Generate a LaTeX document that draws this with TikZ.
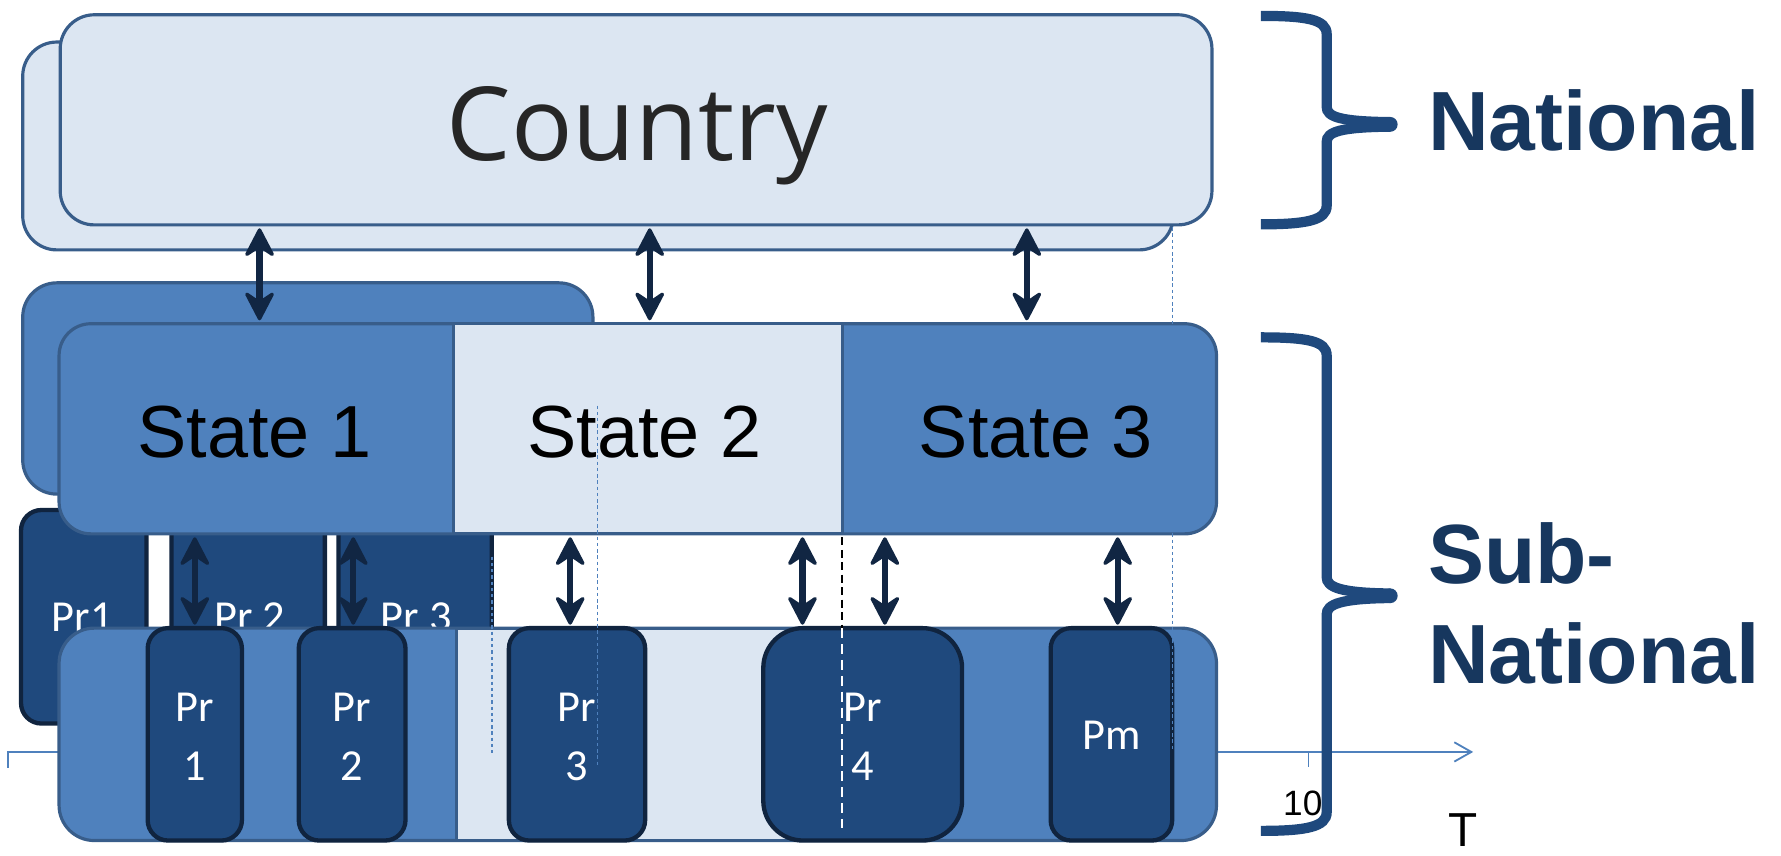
\documentclass[tikz,border=0pt]{standalone}
\usepackage{fontspec}
\setmainfont{Liberation Sans}
\newfontfamily\opensansfont{Open Sans}
\newfontfamily\carlitofont{Carlito}
\usetikzlibrary{arrows.meta}
\definecolor{lightblue}{HTML}{DCE6F2}
\definecolor{medblue}{HTML}{4F81BD}
\definecolor{boxedge}{HTML}{385D8A}
\definecolor{darkfill}{HTML}{1F497D}
\definecolor{darkedge}{HTML}{10243F}
\definecolor{arrowcol}{HTML}{112643}
\definecolor{bracecol}{HTML}{1F497D}
\definecolor{labelcol}{HTML}{17375E}
\definecolor{greytext}{HTML}{262626}
\begin{document}
\begin{tikzpicture}[x=1pt,y=-1pt,
  bigbox/.style={draw=boxedge, line width=2.8pt, rounded corners=30pt, inner sep=0pt, outer sep=0pt},
  segbox/.style={draw=boxedge, line width=2.8pt, inner sep=0pt, outer sep=0pt},
  prbox/.style={draw=darkedge, fill=darkfill, line width=3.8pt, rounded corners=18pt, inner sep=0pt, outer sep=0pt, minimum height=187pt},
  prtext/.style={text=white, font=\carlitofont\fontsize{39}{52}\selectfont, align=center, inner sep=0pt, anchor=north},
  backtext/.style={text=white, font=\carlitofont\fontsize{39}{52}\selectfont, inner sep=0pt, anchor=base},
  statetext/.style={font=\fontsize{65}{78}\selectfont, anchor=base, inner sep=0pt},
  headtip/.tip={Stealth[length=29pt,width=30pt,inset=10pt,line width=3pt,round]},
  dbl/.style={draw=arrowcol, line width=5.5pt, headtip-headtip, shorten <=3pt, shorten >=3pt},
  guide/.style={draw=medblue, line width=1.2pt, dash pattern=on 3pt off 2.5pt},
  bracepath/.style={draw=bracecol, line width=9pt},
  levtext/.style={text=labelcol, font=\bfseries\fontsize{74}{88}\selectfont, anchor=north west, inner sep=0pt, align=left}
]
\useasboundingbox (0,0) rectangle (1568,753);
\clip (0,0) rectangle (1568,753);

% national level
\node[bigbox, fill=lightblue, minimum width=1013pt, minimum height=183pt] (countryB) at (526.5,128.5) {};
\node[bigbox, fill=lightblue, minimum width=1014pt, minimum height=185pt] (country) at (560,105.5) {};
\node[anchor=base, inner sep=0pt, text=greytext, font=\opensansfont\fontsize{90}{108}\selectfont] (countrytxt) at (561,141) {Country};

% state back box
\node[bigbox, fill=medblue, minimum width=502pt, minimum height=186pt] (stateB) at (271,342) {};

% province back boxes
\node[prbox, minimum width=110.5pt, minimum height=188pt] (prB1) at (73.75,543) {};
\node[prbox, minimum width=135pt, minimum height=188pt] (prB2) at (218.5,543) {};
\node[prbox, minimum width=135pt, minimum height=188pt] (prB3) at (365.5,543) {};
\node[backtext] (prB1txt) at (72.5,556) {Pr1};
\node[backtext] (prB2txt) at (220,556) {Pr 2};
\node[backtext] (prB3txt) at (366.5,556) {Pr 3};

% state frame
\node[bigbox, rounded corners=28pt, fill=medblue, minimum width=1019pt, minimum height=185pt] (sframe) at (561.5,377.5) {};
\node[inner sep=0pt, outer sep=0pt, minimum width=347pt, minimum height=185pt] (s1) at (225.5,377.5) {};
\node[segbox, fill=lightblue, minimum width=343pt, minimum height=185pt] (s2) at (570.5,377.5) {};
\node[inner sep=0pt, outer sep=0pt, minimum width=329pt, minimum height=185pt] (s3) at (906.5,377.5) {};
\node[statetext] (s1txt) at (224,403) {State 1};
\node[statetext] (s2txt) at (567.5,403) {State 2};
\node[statetext] (s3txt) at (912,403) {State 3};

% time axis (behind the province bar)
\coordinate (axL) at (7,662);
\coordinate (axR) at (1297,662);
\draw[medblue, line width=1.6pt, -{Straight Barb[length=15pt,width=17pt]}] ([yshift=-14pt]axL) -- (axL) -- (axR);

% province bar
\node[bigbox, rounded corners=31pt, fill=medblue, minimum width=1019pt, minimum height=187pt] (bar) at (561.5,646.5) {};
\node[segbox, fill=lightblue, minimum width=340pt, minimum height=187pt] (barmid) at (572,646.5) {};

% provinces
\node[prbox, minimum width=83pt] (pr1) at (171.5,646.5) {};
\node[prbox, minimum width=94pt] (pr2) at (310,646.5) {};
\node[prbox, minimum width=120pt] (pr3) at (508,646.5) {};
\node[prbox, rounded corners=35pt, minimum width=175pt] (pr4) at (759.5,646.5) {};
\node[prbox, minimum width=107pt] (pm) at (978.5,646.5) {};
\node[prtext] (pr1txt) at (171.5,610) {Pr\\1};
\node[prtext] (pr2txt) at (310,610) {Pr\\2};
\node[prtext] (pr3txt) at (508,610) {Pr\\3};
\node[prtext] (pr4txt) at (759.5,610) {Pr\\4};
\node[backtext] (pmtxt) at (978.5,660) {Pm};

% guide lines
\draw[guide] (433,490) -- (433,663);
\draw[guide] (526,357) -- (526,675);
\draw[guide] (1032,200) -- (1032,660);
\draw[black, line width=1.6pt, dash pattern=on 7pt off 4pt] (741,473) -- (741,553);
\draw[white, line width=2pt, dash pattern=on 9pt off 5pt] (741,553) -- (741,729);

% national <-> state arrows
\coordinate (a1) at ([xshift=3pt]s1.north);
\coordinate (a2) at ([xshift=1.5pt]s2.north);
\coordinate (a3) at ([xshift=-2.5pt]s3.north);
\draw[dbl] (a1 |- country.south) -- (a1);
\draw[dbl] (a2 |- country.south) -- (a2);
\draw[dbl] (a3 |- country.south) -- (a3);

% state <-> province arrows
\coordinate (b1) at (pr1.north);
\coordinate (b2) at ([xshift=1pt]pr2.north);
\coordinate (b3) at ([xshift=-6pt]pr3.north);
\coordinate (b4) at ([xshift=-53pt]pr4.north);
\coordinate (b5) at ([xshift=19.5pt]pr4.north);
\coordinate (b6) at ([xshift=5.5pt]pm.north);
\foreach \b in {b1,b2,b3,b4,b5,b6}
  \draw[dbl] (\b |- sframe.south) -- (\b);

% axis tick and labels
\coordinate (tick) at (1152,662);
\draw[medblue, line width=1.6pt] (tick) -- ([yshift=-13pt]tick);
\node[anchor=base, inner sep=0pt, font=\fontsize{31}{37}\selectfont] (ten) at (1147,718) {10};
\node[anchor=base, inner sep=0pt, font=\fontsize{42}{50}\selectfont] (tlab) at (1288.5,745) {T};

% braces
\draw[bracepath] (1110,14) .. controls (1150,14) and (1168,17) .. (1168,30) -- (1168,94) .. controls (1168,103) and (1180,107) .. (1224,107.5);
\draw[bracepath] (1110,197.5) .. controls (1150,197.5) and (1168,194) .. (1168,181) -- (1168,125) .. controls (1168,116) and (1180,112) .. (1224,111.5);
\fill[bracecol] (1224,109.5) circle (6.5);
\draw[bracepath] (1110,297) .. controls (1150,297) and (1168,300) .. (1168,313) -- (1168,508) .. controls (1168,517) and (1180,522) .. (1224,522.5);
\draw[bracepath] (1110,731.5) .. controls (1150,731.5) and (1168,728) .. (1168,715) -- (1168,541) .. controls (1168,532) and (1180,527) .. (1224,526.5);
\fill[bracecol] (1224,524.5) circle (6.5);

\node[levtext] (nat) at (1257,79) {National};
\node[levtext] (subnat) at (1257,460) {Sub-\\National};
\end{tikzpicture}
\end{document}
